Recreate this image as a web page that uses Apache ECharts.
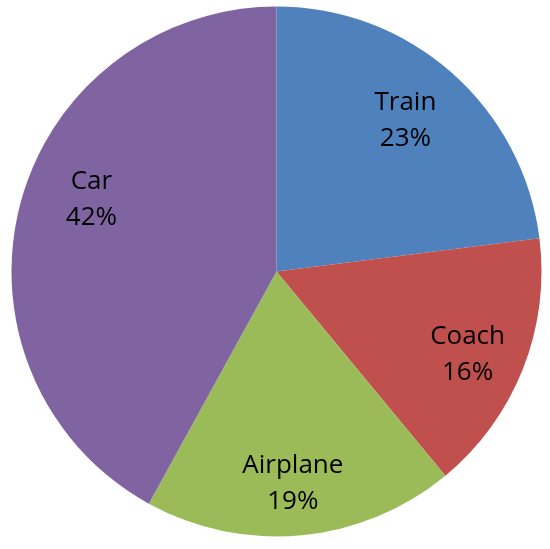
<!DOCTYPE html>
<html>
<head>
<meta charset="utf-8">
<script src="https://cdn.jsdelivr.net/npm/echarts@6/dist/echarts.min.js"></script>
<style>html,body{margin:0;padding:0;background:#fff}#c{width:550px;height:549px}</style>
</head>
<body>
<div id="c"></div>
<script>
const categories = ['Train', 'Coach', 'Airplane', 'Car'];
const values = [23, 16, 19, 42];
const colors = ['#4F81BD', '#C0504D', '#9BBB59', '#8064A2'];
// label nudges (px) to mimic the original "best fit" placement
const labelShift = [[-7, 3], [0, 7], [-3, 8], [14, -21]];

const chart = echarts.init(document.getElementById('c'), null, {renderer: 'canvas'});
const data = categories.map((n, i) => ({name: n, value: values[i], itemStyle: {color: colors[i]}}));
const center = [276.5, 271.5];
chart.setOption({
  animation: false,
  series: [
    {
      type: 'pie',
      center: center,
      radius: [0, 265],
      startAngle: 90,
      clockwise: true,
      silent: true,
      label: {show: false},
      labelLine: {show: false},
      itemStyle: {borderWidth: 0},
      data: data
    },
    {
      type: 'pie',
      center: center,
      radius: [140, 265],
      startAngle: 90,
      clockwise: true,
      silent: true,
      itemStyle: {color: 'rgba(0,0,0,0)', borderWidth: 0},
      label: {
        show: true,
        position: 'inside',
        formatter: p => p.name + '\n' + p.value + '%',
        color: '#000',
        fontFamily: 'Open Sans',
        fontSize: 26,
        lineHeight: 36
      },
      labelLayout: p => ({dx: labelShift[p.dataIndex][0], dy: labelShift[p.dataIndex][1]}),
      labelLine: {show: false},
      data: categories.map((n, i) => ({name: n, value: values[i]}))
    }
  ]
});
</script>
</body>
</html>
